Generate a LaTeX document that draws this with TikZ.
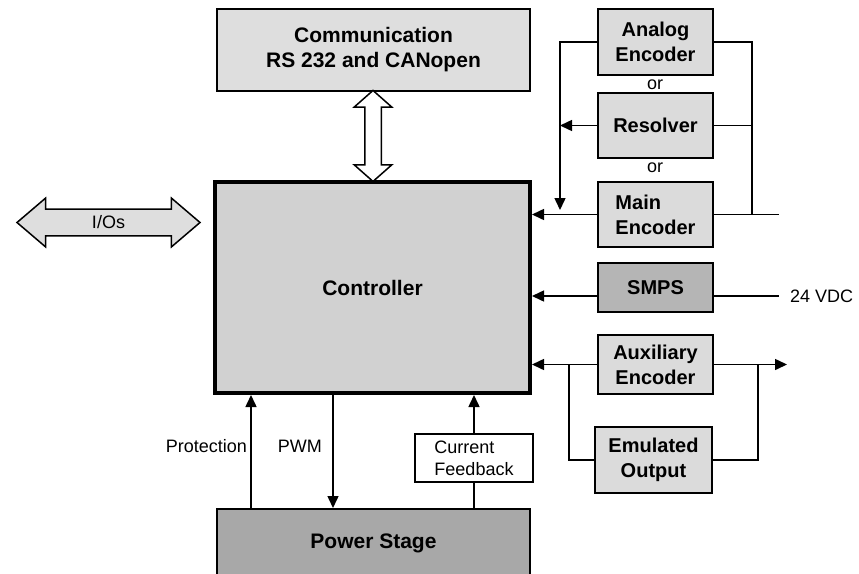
\documentclass[tikz,border=0pt]{standalone}
\usepackage{fontspec}
\setmainfont{Liberation Sans}
\usetikzlibrary{arrows.meta,shapes.arrows,calc}

\begin{document}
\begin{tikzpicture}[x=1pt,y=-1pt,
    box/.style={draw,line width=1.8pt,align=center,inner sep=0pt,
                font=\bfseries\fontsize{21}{25}\selectfont},
    encbox/.style={box,fill=kLight,minimum width=115pt,
                   font=\bfseries\fontsize{20}{25}\selectfont},
    lbl/.style={font=\fontsize{18}{22}\selectfont},
    wire/.style={line width=1.5pt},
    feed/.style={wire,-{Triangle[length=12pt,width=11pt]}}]
  \definecolor{kComm}{rgb}{0.87,0.87,0.87}
  \definecolor{kCtrl}{rgb}{0.82,0.82,0.82}
  \definecolor{kLight}{rgb}{0.86,0.86,0.86}
  \definecolor{kDark}{rgb}{0.71,0.71,0.71}
  \definecolor{kPower}{rgb}{0.66,0.66,0.66}

  \useasboundingbox (0,0) rectangle (859,573);

  \node[box,fill=kComm,minimum width=313pt,minimum height=82pt] (comm) at (373.5,50)
    {Communication\\RS 232 and CANopen};
  \node[box,fill=kCtrl,line width=4pt,minimum width=315pt,minimum height=211pt] (ctrl)
    at (372.5,287.5) {Controller};
  \node[box,fill=kPower,anchor=north,minimum width=313pt,minimum height=68pt] (power)
    at (373.5,508) {Power Stage};

  \node[encbox,minimum height=66pt] (analog) at (655.5,42) {Analog\\Encoder};
  \node[encbox,minimum height=65pt] (resolver) at (655.5,125.5) {Resolver};
  \node[encbox,minimum height=65pt,align=left] (main) at (655.5,214.5) {Main\\Encoder};
  \node[encbox,fill=kDark,minimum height=49pt] (smps) at (655.5,287.5) {SMPS};
  \node[encbox,minimum height=59pt] (aux) at (655.5,364.5) {Auxiliary\\Encoder};
  \node[encbox,minimum width=117pt,minimum height=66pt] (emul) at (653.5,460)
    {Emulated\\Output};
  \node[draw,line width=1.5pt,fill=white,lbl,align=left,inner sep=0pt,
        minimum width=118pt,minimum height=48pt] (cfb) at (474,458) {Current\\Feedback};

  \foreach \n/\y in {or1/85,or2/168}
    \node[lbl] (\n) at (655,\y) {or};
  \node[lbl,anchor=west,inner xsep=11pt] (vdc) at (779,296) {24 VDC};

  \node[double arrow,draw,line width=1.5pt,fill=white,rotate=90,
        inner xsep=0pt,inner ysep=7.5pt,
        minimum height=91pt,double arrow head extend=10.5pt,
        double arrow tip angle=97] (bus) at ($(comm.south)!0.5!(ctrl.north)$) {};
  \node[double arrow,draw,line width=1.5pt,fill=kComm,lbl,inner xsep=0pt,inner ysep=6pt,
        minimum height=183pt,double arrow head extend=11pt,
        double arrow tip angle=81] (ios) at (108.5,222.5) {I/Os};

  \coordinate (lbus) at (560,210);
  \coordinate (rbus) at (752,214.5);
  \coordinate (encout) at (779,214.5);
  \coordinate (auxout) at (787,364.5);
  \coordinate (auxl) at (569,0);
  \coordinate (auxr) at (758,0);
  \coordinate (prot) at (251,0);
  \coordinate (pwm) at (333,0);

  \draw[feed] (analog.west) -| (lbus);
  \draw[feed] (resolver.west) -- (resolver.west -| lbus);
  \draw[feed] (main.west) -- (main.west -| ctrl.east);
  \draw[wire] (analog.east) -| (rbus);
  \draw[wire] (resolver.east) -- (resolver.east -| rbus);
  \draw[wire] (main.east) -- (encout);

  \draw[feed] ([yshift=-8.5pt]smps.west) -- (vdc.west -| ctrl.east);
  \draw[wire] ([yshift=-8.5pt]smps.east) -- (vdc.west);

  \draw[feed] (aux.west) -- (aux.west -| ctrl.east);
  \draw[feed] (aux.east) -- (auxout);
  \draw[wire] (emul.west) -| (aux.west -| auxl);
  \draw[wire] (emul.east) -| (aux.east -| auxr);

  \draw[feed] (power.north -| prot) -- (ctrl.south -| prot)
    node[lbl,midway,left,yshift=5pt] {Protection};
  \draw[feed] (ctrl.south -| pwm) -- (power.north -| pwm)
    node[lbl,midway,left,xshift=-7pt,yshift=5pt] {PWM};
  \draw[wire] (power.north -| cfb.south) -- (cfb.south);
  \draw[feed] (cfb.north) -- (ctrl.south -| cfb.north);
\end{tikzpicture}
\end{document}
